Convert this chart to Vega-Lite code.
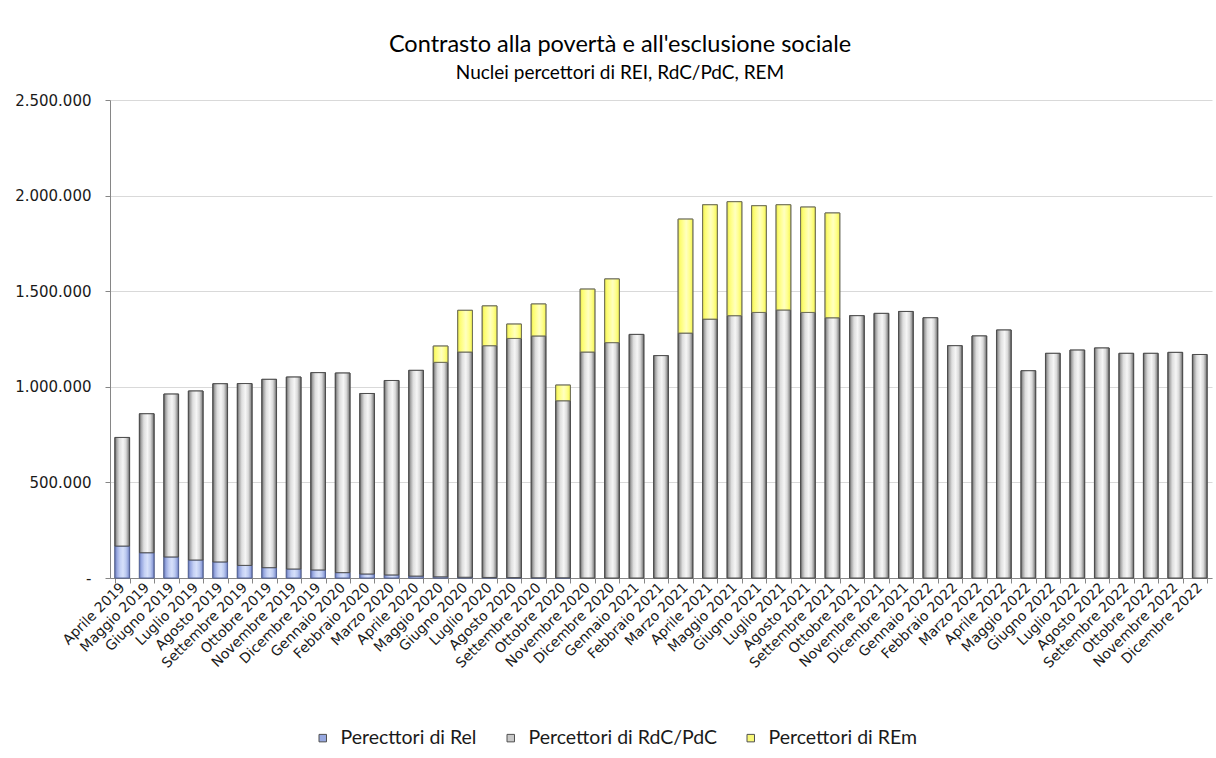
{
  "$schema": "https://vega.github.io/schema/vega-lite/v6.json",
  "autosize": "none",
  "width": 1102,
  "height": 478,
  "padding": {"left": 110, "top": 100, "right": 4, "bottom": 180},
  "background": "white",
  "title": {
    "text": "Contrasto alla povertà e all'esclusione sociale",
    "subtitle": "Nuclei percettori di REI, RdC/PdC, REM",
    "anchor": "middle",
    "dx": -41,
    "offset": 10,
    "font": "Lato",
    "fontSize": 23.5,
    "fontWeight": "normal",
    "color": "#000000",
    "subtitleFont": "Lato",
    "subtitleFontSize": 19,
    "subtitleColor": "#000000",
    "subtitlePadding": 8
  },
  "data": {
    "values": [
      {"mese": "Aprile 2019", "Perecttori di Rel": 167000, "Percettori di RdC/PdC": 568000, "Percettori di REm": 0},
      {"mese": "Maggio 2019", "Perecttori di Rel": 132000, "Percettori di RdC/PdC": 727000, "Percettori di REm": 0},
      {"mese": "Giugno 2019", "Perecttori di Rel": 110000, "Percettori di RdC/PdC": 852000, "Percettori di REm": 0},
      {"mese": "Luglio 2019", "Perecttori di Rel": 94000, "Percettori di RdC/PdC": 884000, "Percettori di REm": 0},
      {"mese": "Agosto 2019", "Perecttori di Rel": 84000, "Percettori di RdC/PdC": 932000, "Percettori di REm": 0},
      {"mese": "Settembre 2019", "Perecttori di Rel": 66000, "Percettori di RdC/PdC": 951000, "Percettori di REm": 0},
      {"mese": "Ottobre 2019", "Perecttori di Rel": 54000, "Percettori di RdC/PdC": 985000, "Percettori di REm": 0},
      {"mese": "Novembre 2019", "Perecttori di Rel": 47000, "Percettori di RdC/PdC": 1004000, "Percettori di REm": 0},
      {"mese": "Dicembre 2019", "Perecttori di Rel": 42000, "Percettori di RdC/PdC": 1032000, "Percettori di REm": 0},
      {"mese": "Gennaio 2020", "Perecttori di Rel": 28000, "Percettori di RdC/PdC": 1044000, "Percettori di REm": 0},
      {"mese": "Febbraio 2020", "Perecttori di Rel": 21000, "Percettori di RdC/PdC": 944000, "Percettori di REm": 0},
      {"mese": "Marzo 2020", "Perecttori di Rel": 16000, "Percettori di RdC/PdC": 1017000, "Percettori di REm": 0},
      {"mese": "Aprile 2020", "Perecttori di Rel": 10000, "Percettori di RdC/PdC": 1076000, "Percettori di REm": 0},
      {"mese": "Maggio 2020", "Perecttori di Rel": 6000, "Percettori di RdC/PdC": 1122000, "Percettori di REm": 85000},
      {"mese": "Giugno 2020", "Perecttori di Rel": 4000, "Percettori di RdC/PdC": 1178000, "Percettori di REm": 218000},
      {"mese": "Luglio 2020", "Perecttori di Rel": 3000, "Percettori di RdC/PdC": 1212000, "Percettori di REm": 208000},
      {"mese": "Agosto 2020", "Perecttori di Rel": 2000, "Percettori di RdC/PdC": 1251000, "Percettori di REm": 75000},
      {"mese": "Settembre 2020", "Perecttori di Rel": 1000, "Percettori di RdC/PdC": 1265000, "Percettori di REm": 167000},
      {"mese": "Ottobre 2020", "Perecttori di Rel": 1000, "Percettori di RdC/PdC": 926000, "Percettori di REm": 82000},
      {"mese": "Novembre 2020", "Perecttori di Rel": 0, "Percettori di RdC/PdC": 1182000, "Percettori di REm": 329000},
      {"mese": "Dicembre 2020", "Perecttori di Rel": 0, "Percettori di RdC/PdC": 1231000, "Percettori di REm": 333000},
      {"mese": "Gennaio 2021", "Perecttori di Rel": 0, "Percettori di RdC/PdC": 1274000, "Percettori di REm": 0},
      {"mese": "Febbraio 2021", "Perecttori di Rel": 0, "Percettori di RdC/PdC": 1163000, "Percettori di REm": 0},
      {"mese": "Marzo 2021", "Perecttori di Rel": 0, "Percettori di RdC/PdC": 1281000, "Percettori di REm": 596000},
      {"mese": "Aprile  2021", "Perecttori di Rel": 0, "Percettori di RdC/PdC": 1354000, "Percettori di REm": 598000},
      {"mese": "Maggio 2021", "Perecttori di Rel": 0, "Percettori di RdC/PdC": 1372000, "Percettori di REm": 596000},
      {"mese": "Giugno 2021", "Perecttori di Rel": 0, "Percettori di RdC/PdC": 1389000, "Percettori di REm": 558000},
      {"mese": "Luglio 2021", "Perecttori di Rel": 0, "Percettori di RdC/PdC": 1402000, "Percettori di REm": 550000},
      {"mese": "Agosto 2021", "Perecttori di Rel": 0, "Percettori di RdC/PdC": 1389000, "Percettori di REm": 551000},
      {"mese": "Settembre 2021", "Perecttori di Rel": 0, "Percettori di RdC/PdC": 1361000, "Percettori di REm": 548000},
      {"mese": "Ottobre 2021", "Perecttori di Rel": 0, "Percettori di RdC/PdC": 1372000, "Percettori di REm": 0},
      {"mese": "Novembre 2021", "Perecttori di Rel": 0, "Percettori di RdC/PdC": 1384000, "Percettori di REm": 0},
      {"mese": "Dicembre 2021", "Perecttori di Rel": 0, "Percettori di RdC/PdC": 1394000, "Percettori di REm": 0},
      {"mese": "Gennaio 2022", "Perecttori di Rel": 0, "Percettori di RdC/PdC": 1361000, "Percettori di REm": 0},
      {"mese": "Febbraio 2022", "Perecttori di Rel": 0, "Percettori di RdC/PdC": 1215000, "Percettori di REm": 0},
      {"mese": "Marzo 2022", "Perecttori di Rel": 0, "Percettori di RdC/PdC": 1266000, "Percettori di REm": 0},
      {"mese": "Aprile 2022", "Perecttori di Rel": 0, "Percettori di RdC/PdC": 1297000, "Percettori di REm": 0},
      {"mese": "Maggio 2022", "Perecttori di Rel": 0, "Percettori di RdC/PdC": 1084000, "Percettori di REm": 0},
      {"mese": "Giugno 2022", "Perecttori di Rel": 0, "Percettori di RdC/PdC": 1175000, "Percettori di REm": 0},
      {"mese": "Luglio 2022", "Perecttori di Rel": 0, "Percettori di RdC/PdC": 1192000, "Percettori di REm": 0},
      {"mese": "Agosto 2022", "Perecttori di Rel": 0, "Percettori di RdC/PdC": 1203000, "Percettori di REm": 0},
      {"mese": "Settembre 2022", "Perecttori di Rel": 0, "Percettori di RdC/PdC": 1175000, "Percettori di REm": 0},
      {"mese": "Ottobre 2022", "Perecttori di Rel": 0, "Percettori di RdC/PdC": 1175000, "Percettori di REm": 0},
      {"mese": "Novembre 2022", "Perecttori di Rel": 0, "Percettori di RdC/PdC": 1180000, "Percettori di REm": 0},
      {"mese": "Dicembre 2022", "Perecttori di Rel": 0, "Percettori di RdC/PdC": 1169000, "Percettori di REm": 0}
    ]
  },
  "transform": [
    {"fold": ["Perecttori di Rel", "Percettori di RdC/PdC", "Percettori di REm"], "as": ["serie", "valore"]},
    {"filter": "datum.valore > 0"},
    {"stack": "valore", "groupby": ["mese"], "sort": [{"field": "serie", "order": "descending"}], "as": ["y0", "y1"]}
  ],
  "encoding": {
    "x": {
      "field": "mese",
      "type": "nominal",
      "sort": null,
      "scale": {"paddingInner": 0.4, "paddingOuter": 0.2},
      "axis": {
        "title": null,
        "labelAngle": -45,
        "labelAlign": "right",
        "labelBaseline": "middle",
        "labelFont": "DejaVu Sans",
        "labelFontSize": 14,
        "labelColor": "#1a1a1a",
        "labelPadding": 2,
        "labelOverlap": false,
        "labelBound": false,
        "tickBand": "extent",
        "tickSize": 5,
        "tickColor": "#868686",
        "domainColor": "#868686",
        "grid": false
      }
    },
    "y": {
      "field": "y1",
      "type": "quantitative",
      "scale": {"domain": [0, 2500000], "nice": false},
      "axis": {
        "title": null,
        "values": [0, 500000, 1000000, 1500000, 2000000, 2500000],
        "labelExpr": "datum.value == 0 ? '-' : replace(format(datum.value, ','), /,/g, '.')",
        "labelFont": "DejaVu Sans",
        "labelFontSize": 15,
        "labelColor": "#1a1a1a",
        "labelPadding": 14,
        "tickSize": 5,
        "tickColor": "#868686",
        "domainColor": "#868686",
        "grid": true,
        "gridColor": "#d9d9d9"
      }
    },
    "y2": {"field": "y0"}
  },
  "layer": [
    {
      "mark": {"type": "bar", "strokeWidth": 1, "stroke": "#606060"},
      "encoding": {
        "color": {
          "field": "serie",
          "type": "nominal",
          "scale": {
            "domain": ["Perecttori di Rel", "Percettori di RdC/PdC", "Percettori di REm"],
            "range": ["#97a8e0", "#c8c8c8", "#f8f878"]
          },
          "legend": {
            "title": null,
            "orient": "none",
            "direction": "horizontal",
            "legendX": 203,
            "legendY": 628,
            "symbolType": "square",
            "symbolSize": 56,
            "symbolStrokeWidth": 1,
            "symbolStrokeColor": "#505050",
            "symbolOpacity": 1,
            "labelFont": "Lato",
            "labelFontSize": 19.5,
            "labelColor": "#1a1a1a",
            "labelOffset": 8,
            "columnPadding": 24,
            "labelLimit": 300
          }
        }
      }
    },
    {
      "transform": [{"filter": "datum.serie == 'Perecttori di Rel'"}],
      "mark": {"type": "bar", "strokeWidth": 1, "stroke": "#5a6aa0", "color": {"gradient": "linear", "x1": 0, "y1": 0, "x2": 1, "y2": 0, "stops": [
        {"offset": 0, "color": "#6676b2"},
        {"offset": 0.14, "color": "#98a8e0"},
        {"offset": 0.35, "color": "#c4d0f4"},
        {"offset": 0.55, "color": "#d6e0fa"},
        {"offset": 0.75, "color": "#bccaf0"},
        {"offset": 0.9, "color": "#94a4dc"},
        {"offset": 1, "color": "#6270ac"}
      ]}}
    },
    {
      "transform": [{"filter": "datum.serie == 'Percettori di RdC/PdC'"}],
      "mark": {"type": "bar", "strokeWidth": 1, "stroke": "#4e4e4e", "color": {"gradient": "linear", "x1": 0, "y1": 0, "x2": 1, "y2": 0, "stops": [
        {"offset": 0, "color": "#5c5c5c"},
        {"offset": 0.12, "color": "#a4a4a4"},
        {"offset": 0.3, "color": "#dedede"},
        {"offset": 0.55, "color": "#f6f6f6"},
        {"offset": 0.75, "color": "#dadada"},
        {"offset": 0.9, "color": "#9c9c9c"},
        {"offset": 1, "color": "#585858"}
      ]}}
    },
    {
      "transform": [{"filter": "datum.serie == 'Percettori di REm'"}],
      "mark": {"type": "bar", "strokeWidth": 1, "stroke": "#707058", "color": {"gradient": "linear", "x1": 0, "y1": 0, "x2": 1, "y2": 0, "stops": [
        {"offset": 0, "color": "#e6e650"},
        {"offset": 0.15, "color": "#fcfc70"},
        {"offset": 0.35, "color": "#ffff96"},
        {"offset": 0.55, "color": "#ffffc0"},
        {"offset": 0.75, "color": "#ffff94"},
        {"offset": 0.9, "color": "#fafa6c"},
        {"offset": 1, "color": "#e2e24c"}
      ]}}
    }
  ],
  "config": {
    "view": {"stroke": null}
  }
}
